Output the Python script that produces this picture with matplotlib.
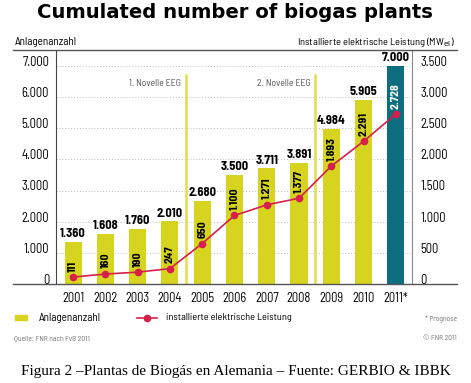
import matplotlib

matplotlib.use("Agg")
import matplotlib.pyplot as plt
from matplotlib import font_manager as fm
from matplotlib.lines import Line2D
from matplotlib.patches import Rectangle
from matplotlib.transforms import ScaledTranslation

years = ["2001", "2002", "2003", "2004", "2005", "2006",
         "2007", "2008", "2009", "2010", "2011*"]
plants = [1360, 1608, 1760, 2010, 2680, 3500, 3711, 3891, 4984, 5905, 7000]
power_mw = [111, 160, 190, 247, 650, 1100, 1271, 1377, 1893, 2291, 2728]
left_ticks = [0, 1000, 2000, 3000, 4000, 5000, 6000, 7000]
right_ticks = [0, 500, 1000, 1500, 2000, 2500, 3000, 3500]
eeg_marks = [(3.5, "1. Novelle EEG"), (7.5, "2. Novelle EEG")]

YELLOW = "#d6d41e"
TEAL = "#0d6e80"
RED = "#d4204a"
GREY = "#555555"

# narrow DIN-like face, whichever is installed
installed = {f.name for f in fm.fontManager.ttflist}
wanted = ["Barlow Semi Condensed", "Roboto Condensed", "Archivo Narrow",
          "PT Sans Narrow", "Fira Sans Condensed", "Liberation Sans Narrow",
          "Encode Sans Condensed", "Asap Condensed", "DejaVu Sans Condensed"]
NARROW = [n for n in wanted if n in installed][:1] + ["DejaVu Sans"]
plt.rcParams["font.family"] = NARROW

W, H = 471, 383


def fx(x):
    return x / W


def fy(y):
    return 1 - y / H


def dots(v):
    return f"{v:,}".replace(",", ".")


fig = plt.figure(figsize=(W / 100, H / 100), dpi=100)
ax = fig.add_axes([fx(56), fy(284), fx(412) - fx(56), fy(50) - fy(284)])
ymax = 7000 * 234 / 218
ax.set_ylim(0, ymax)
ax.set_xlim(-0.53, 10.5)

x = list(range(len(years)))
colors = [YELLOW] * (len(years) - 1) + [TEAL]
ax.bar(x, plants, width=0.53, color=colors, zorder=2)

# dotted grid
for t in left_ticks[1:]:
    ax.axhline(t, color="#bbbbbb", lw=0.7, ls=(0, (1, 2)), zorder=1)

# EEG amendments
for xe, lab in eeg_marks:
    ax.plot([xe, xe], [0, 6700], color="#e3df4a", lw=1.8, zorder=1.5)
    ax.text(xe - 0.15, 6450, lab, ha="right", va="center", fontsize=7,
            color=GREY)

for xi, v in zip(x, plants):
    ax.annotate(dots(v), (xi, v), xytext=(0, 2), textcoords="offset points",
                ha="center", va="bottom", fontsize=9, fontweight="bold")

ax2 = ax.twinx()
ax2.set_ylim(0, ymax / 2)
ax2.plot(x, power_mw, color=RED, lw=1.2, marker="o", ms=4.5, zorder=3)
for xi, v in zip(x, power_mw):
    ax2.annotate(dots(v), (xi, v), xytext=(0, 4), textcoords="offset points",
                 ha="center", va="bottom", rotation=90, fontsize=8.5,
                 fontweight="bold", color="white" if xi == x[-1] else "black")

for a in (ax, ax2):
    for s in ("top", "bottom"):
        a.spines[s].set_visible(False)
ax.spines["right"].set_visible(False)
ax2.spines["left"].set_visible(False)
ax.spines["left"].set_color("#444444")
ax2.spines["right"].set_color("#888888")

ax.set_yticks(left_ticks, [dots(t) for t in left_ticks])
ax2.set_yticks(right_ticks, [dots(t) for t in right_ticks])
ax.tick_params(axis="y", length=0, pad=5, labelsize=9)
ax2.tick_params(axis="y", length=0, pad=6, labelsize=9)
ax.set_xticks(x, years)
ax.tick_params(axis="x", length=0, pad=6, labelsize=9)
up = ScaledTranslation(0, 5 / 72 * 0.75, fig.dpi_scale_trans)
for lab in ax.get_yticklabels() + ax2.get_yticklabels():
    lab.set_transform(lab.get_transform() + up)

# header / baseline rules
for yy in (50, 284):
    fig.add_artist(Line2D([fx(13), fx(457)], [fy(yy), fy(yy)],
                          color="#555555", lw=1))

fig.text(fx(235), fy(12), "Cumulated number of biogas plants", ha="center",
         va="center", fontsize=14.1, fontweight="bold",
         family=["DejaVu Sans"])
fig.text(fx(15), fy(42), "Anlagenanzahl", ha="left", va="center", fontsize=8)
fig.text(fx(455), fy(42), "Installierte elektrische Leistung (MW$_{\\rm el}$)",
         ha="right", va="center", fontsize=7.5)

# legend
fig.add_artist(Rectangle((fx(15), fy(320)), fx(12), fy(315) - fy(320),
                         color=YELLOW))
fig.text(fx(39), fy(318), "Anlagenanzahl", ha="left", va="center", fontsize=8)
fig.add_artist(Line2D([fx(137), fx(157)], [fy(318), fy(318)], color=RED,
                      lw=1.2))
fig.add_artist(Line2D([fx(147)], [fy(318)], color=RED, marker="o", ms=4.5))
fig.text(fx(166), fy(318), "installierte elektrische Leistung", ha="left",
         va="center", fontsize=7.4)
fig.text(fx(457), fy(319), "* Prognose", ha="right", va="center",
         fontsize=5.5, color="#777777")
fig.text(fx(14), fy(339), "Quelle: FNR nach FvB 2011", ha="left",
         va="center", fontsize=5.5, color="#777777")
fig.text(fx(457), fy(339), "© FNR 2011", ha="right", va="center",
         fontsize=5.5, color="#777777")

fig.text(0.5, fy(371),
         "Figura 2 –Plantas de Biogás en Alemania – Fuente: GERBIO & IBBK",
         ha="center", va="center", fontsize=11,
         family=["Liberation Serif", "DejaVu Serif"])

fig.savefig("out.png", dpi=100)
